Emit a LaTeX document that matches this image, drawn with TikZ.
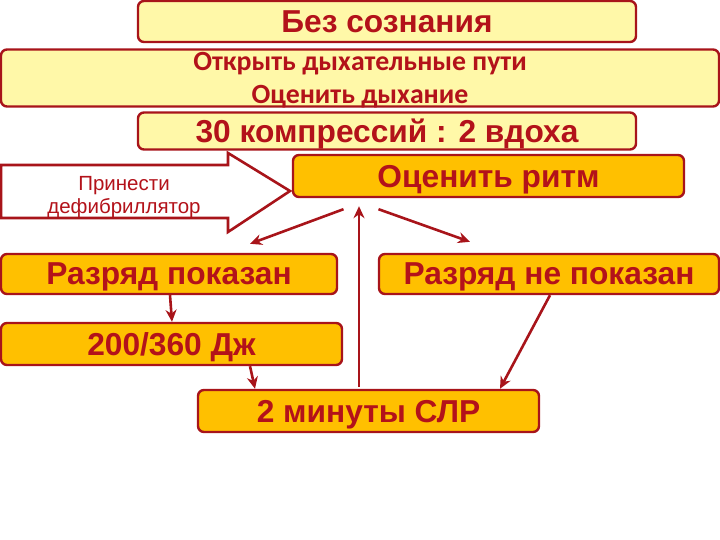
\documentclass[tikz,border=0pt]{standalone}
\usepackage{fontspec}
\setmainfont{Liberation Sans}
\newfontfamily\narrowfont{Carlito}
\usetikzlibrary{arrows.meta}
\definecolor{darkred}{HTML}{A8141A}
\definecolor{textred}{HTML}{B3121A}
\definecolor{paleyellow}{HTML}{FFF8A8}
\definecolor{amber}{HTML}{FFC000}
\begin{document}
\begin{tikzpicture}[x=1pt,y=-1pt,
  box/.style={draw=darkred,line width=2.4pt,rounded corners=6pt,text depth=0pt,
    text=textred,font=\bfseries\fontsize{31.7}{33}\selectfont,inner sep=0pt,align=center},
  palebox/.style={box,fill=paleyellow},
  ambbox/.style={box,fill=amber},
  arr/.style={draw=darkred,line width=2.6pt,-{Stealth[length=12pt,width=11pt]}}]
\useasboundingbox (0,0) rectangle (720,540);
% top of the chart
\node[palebox,minimum width=498pt,minimum height=41pt] (unconscious) at (387,21.5) {Без сознания};
\node[palebox,minimum width=718pt,minimum height=57pt,font=\narrowfont\bfseries\fontsize{27.8}{33}\selectfont] (airway) at (360,78) {Открыть дыхательные пути\\Оценить дыхание};
\node[palebox,minimum width=498pt,minimum height=37pt] (compress) at (387,131) {30 компрессий : 2 вдоха};
\node[ambbox,minimum width=391pt,minimum height=42pt] (rhythm) at (488.5,176) {Оценить ритм};
% block arrow
\draw[darkred,line width=2.6pt,fill=white] (1,165) -- (228,165) -- (228,153) -- (290,191)
  -- (228,232) -- (228,218) -- (1,218) -- cycle;
\node[text=textred,font=\fontsize{20.5}{23}\selectfont,align=center] (defib) at (124,197) {Принести\\дефибриллятор};
% branches
\node[ambbox,minimum width=336pt,minimum height=40pt] (shock) at (169,274) {Разряд показан};
\node[ambbox,minimum width=340pt,minimum height=40pt] (noshock) at (549,274) {Разряд не показан};
\node[ambbox,minimum width=341pt,minimum height=42pt] (joule) at (171.5,344) {200/360 Дж};
\node[ambbox,minimum width=341pt,minimum height=42pt] (cpr) at (368.5,411) {2 минуты СЛР};
% connectors
\draw[arr] ([shift={(-145,11)}]rhythm.south) -- ([shift={(81,-9)}]shock.north);
\draw[arr] ([shift={(-110,11)}]rhythm.south) -- ([shift={(-79,-11)}]noshock.north);
\draw[arr] ([shift={(-9.5,-2)}]cpr.north) -- ([shift={(-129.5,8)}]rhythm.south);
\draw[arr] ([xshift=1]shock.south) -- ([xshift=0.5]joule.north);
\draw[arr] ([xshift=78.5]joule.south) -- ([xshift=-113.5]cpr.north);
\draw[arr] ([xshift=1]noshock.south) -- ([xshift=131.5]cpr.north);
\end{tikzpicture}
\end{document}
